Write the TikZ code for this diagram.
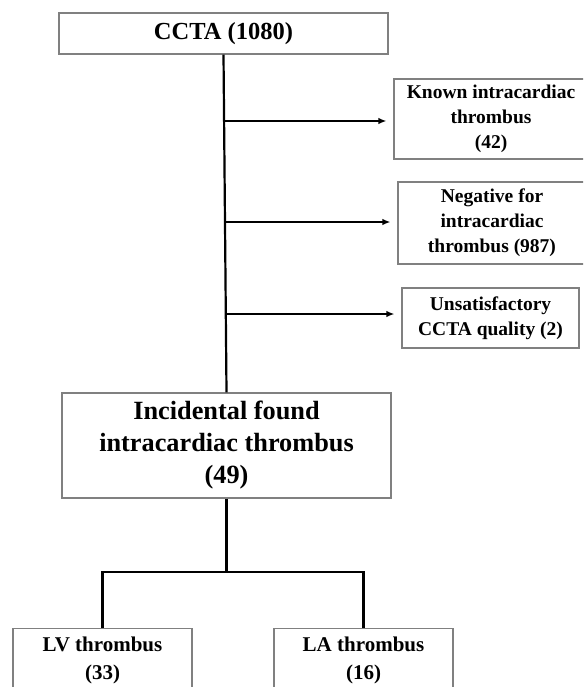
\documentclass[tikz,border=0pt]{standalone}
\usepackage{fontspec}
\setmainfont{Liberation Serif}
\usetikzlibrary{arrows.meta}
\begin{document}
\begin{tikzpicture}[x=1pt,y=-1pt,
  box/.style={draw=black!50, line width=1.1pt, fill=white, inner sep=0pt, align=center},
  txt/.style={inner sep=0pt, align=center},
  conn/.style={line width=2.2pt, black},
  arr/.style={conn, -{Latex[length=8pt,width=6.5pt]}, shorten >=7pt},
  ftop/.style={font=\fontsize{24.5}{30}\selectfont\bfseries},
  fbig/.style={font=\fontsize{26.3}{32}\selectfont\bfseries},
  fmid/.style={font=\fontsize{21}{28}\selectfont\bfseries},
  fsmall/.style={font=\fontsize{19.5}{25}\selectfont\bfseries}]
\useasboundingbox (0,0) rectangle (583,687);
\clip (0,0) rectangle (583,687);

\node[box, ftop, minimum width=329pt, minimum height=41pt] (ccta) at (223.5,33.5) {CCTA (1080)};
\node[box, fsmall, minimum width=194pt, minimum height=80pt] (known) at (491,119) {Known intracardiac\\thrombus\\(42)};
\node[box, fsmall, minimum width=188pt, minimum height=82pt] (neg) at (492,223) {Negative for\\intracardiac\\thrombus (987)};
\node[box, fsmall, minimum width=177pt, minimum height=60pt] (uns) at (490.5,318) {Unsatisfactory\\CCTA quality (2)};
\node[box, fbig, minimum width=329pt, minimum height=105pt] (inc) at (226.5,445.5) {Incidental found\\intracardiac thrombus\\(49)};

\node[box, minimum width=179pt, minimum height=80pt, anchor=north] (lv) at (102.5,628) {};
\node[txt, fmid] (lvt) at (102.5,660) {LV thrombus\\(33)};
\node[box, minimum width=179pt, minimum height=80pt, anchor=north] (la) at (363.5,628) {};
\node[txt, fmid] (lat) at (363.5,660) {LA thrombus\\(16)};

\coordinate (b1) at (224.5,121);
\coordinate (b2) at (224.8,222);
\coordinate (b3) at (225.2,314);
\coordinate (split) at (226.5,572);

\draw[conn] (ccta.south) -- (inc.north);
\draw[arr] (b1) -- (b1 -| known.west);
\draw[arr] (b2) -- (b2 -| neg.west);
\draw[arr] (b3) -- (b3 -| uns.west);
\draw[conn] (inc.south) -- (split);
\draw[conn] (lv.north) -- (lv.north |- split) -- (la.north |- split) -- (la.north);
\end{tikzpicture}
\end{document}
